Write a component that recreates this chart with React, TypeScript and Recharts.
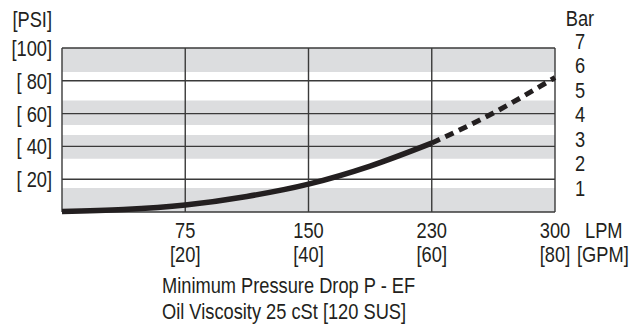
import React from 'react';
import { LineChart, Line, XAxis, YAxis, ReferenceArea, ReferenceLine } from 'recharts';

// Flow in GPM (plotted axis), pressure drop in PSI
const gpm = [0, 10, 20, 30, 40, 50, 60, 70, 80];
const psiSolid: (number | null)[] = [0.3, 1.5, 4.3, 9.5, 17, 28, 42, null, null];
const psiDashed: (number | null)[] = [null, null, null, null, null, null, 42, 60.4, 82];

const xTicks = [0, 20, 40, 60, 80];
const lpmLabels = ['', '75', '150', '230', '300'];
const gpmLabels = ['', '[20]', '[40]', '[60]', '[80]'];

const psiTicks = [0, 20, 40, 60, 80, 100];
const psiLabels = ['', '[ 20]', '[ 40]', '[ 60]', '[ 80]', '[100]'];

const barTicks = [1, 2, 3, 4, 5, 6, 7];

// shaded bands, PSI
const bandStarts = [0, 32.5, 53, 85.3];
const bandEnds = [14.7, 47, 68, 100];

const data = gpm.map((g, i) => ({ gpm: g, solid: psiSolid[i], dashed: psiDashed[i] }));

const FONT = "'Liberation Sans', Arial, sans-serif";
const TXT = '#231f20';
const GRID = '#3a3a3a';
const SX = 0.83;

const T = (p: { x: number; y: number; anchor: string; dy?: string; children: any }) => (
  <text
    transform={`translate(${p.x},${p.y}) scale(${SX},1)`}
    x={0}
    y={0}
    dy={p.dy}
    textAnchor={p.anchor}
    fontFamily={FONT}
    fontSize={22}
    fill={TXT}
    style={{ whiteSpace: 'pre' }}
  >
    {p.children}
  </text>
);

const XTick = (props: any) => {
  const { x, y, payload } = props;
  const i = xTicks.indexOf(payload.value);
  if (i <= 0) return null;
  const last = i === xTicks.length - 1;
  return (
    <g>
      <T x={x} y={y + 26} anchor="middle">{lpmLabels[i]}</T>
      <T x={x} y={y + 50} anchor="middle">{gpmLabels[i]}</T>
      {last && <T x={x + 30} y={y + 26} anchor="start">LPM</T>}
      {last && <T x={x + 22} y={y + 50} anchor="start">[GPM]</T>}
    </g>
  );
};

const PsiTick = (props: any) => {
  const { x, y, payload } = props;
  const i = psiTicks.indexOf(payload.value);
  if (i <= 0) return null;
  return <T x={x - 10} y={y} dy="0.36em" anchor="end">{psiLabels[i]}</T>;
};

const BarTick = (props: any) => {
  const { x, y, payload } = props;
  return <T x={x + 25} y={y} dy="0.36em" anchor="middle">{String(payload.value)}</T>;
};

const PsiTitle = (props: any) => {
  const vb = props.viewBox || { x: 0, y: 48, width: 62 };
  return <T x={vb.x + vb.width - 10} y={vb.y - 21} anchor="end">[PSI]</T>;
};

const BarTitle = (props: any) => {
  const vb = props.viewBox || { x: 555, y: 48 };
  return <T x={vb.x + 25} y={vb.y - 22} anchor="middle">Bar</T>;
};

const XTitle = (props: any) => {
  const vb = props.viewBox || { x: 62, y: 212 };
  return (
    <g>
      <T x={vb.x + 100} y={vb.y + 81} anchor="start">Minimum Pressure Drop P - EF</T>
      <T x={vb.x + 100} y={vb.y + 107} anchor="start">Oil Viscosity 25 cSt [120 SUS]</T>
    </g>
  );
};

export default function App() {
  return (
    <div style={{ position: 'absolute', left: 0, top: 0, background: '#fff' }}>
      <LineChart width={637} height={327} data={data} margin={{ top: 48, right: 0, bottom: 0, left: 0 }}>
        <XAxis
          dataKey="gpm"
          type="number"
          domain={[0, 80]}
          ticks={xTicks}
          interval={0}
          axisLine={false}
          tickLine={false}
          tickSize={0}
          tickMargin={0}
          height={115}
          tick={<XTick />}
          label={<XTitle />}
        />
        <YAxis
          yAxisId="psi"
          type="number"
          domain={[0, 100]}
          ticks={psiTicks}
          interval={0}
          width={62}
          axisLine={false}
          tickLine={false}
          tickSize={0}
          tickMargin={0}
          tick={<PsiTick />}
          label={<PsiTitle />}
        />
        <YAxis
          yAxisId="bar"
          orientation="right"
          type="number"
          domain={[0, 6.72]}
          allowDataOverflow
          ticks={barTicks}
          interval={0}
          width={82}
          axisLine={false}
          tickLine={false}
          tickSize={0}
          tickMargin={0}
          tick={<BarTick />}
          label={<BarTitle />}
        />
        {bandStarts.map((s, i) => (
          <ReferenceArea key={'b' + i} yAxisId="psi" y1={s} y2={bandEnds[i]} fill="#dcdddf" fillOpacity={1} stroke="none" />
        ))}
        {psiTicks.map((v) => (
          <ReferenceLine key={'h' + v} yAxisId="psi" y={v} stroke={GRID} strokeWidth={1.4} />
        ))}
        {xTicks.map((v) => (
          <ReferenceLine key={'v' + v} yAxisId="psi" x={v} stroke={GRID} strokeWidth={1.4} />
        ))}
        <Line
          yAxisId="psi"
          dataKey="solid"
          type="monotone"
          stroke="#231f20"
          strokeWidth={5.5}
          dot={false}
          activeDot={false}
          connectNulls={false}
          isAnimationActive={false}
        />
        <Line
          yAxisId="psi"
          dataKey="dashed"
          type="monotone"
          stroke="#231f20"
          strokeWidth={5}
          strokeDasharray="9 6"
          dot={false}
          activeDot={false}
          connectNulls={false}
          isAnimationActive={false}
        />
      </LineChart>
    </div>
  );
}
